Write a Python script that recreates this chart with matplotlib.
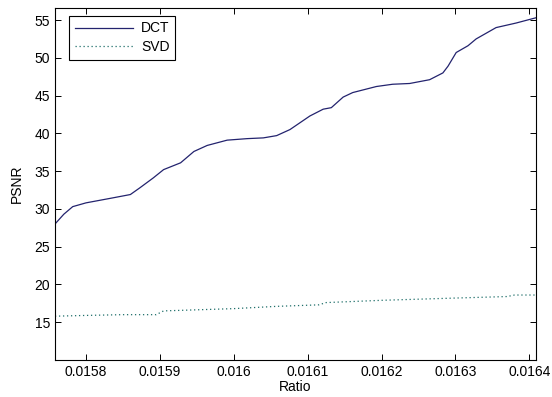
import matplotlib
matplotlib.use("Agg")
import matplotlib.pyplot as plt

plt.rcParams['font.family'] = ['Liberation Sans', 'DejaVu Sans']

# DCT curve
dct_x = [0.015758, 0.015770, 0.015782, 0.015800, 0.015833, 0.015860, 0.015873,
         0.015891, 0.015905, 0.015928, 0.015946, 0.015964, 0.015991, 0.016018,
         0.016040, 0.016058, 0.016076, 0.016103, 0.016121, 0.016132, 0.016148,
         0.016161, 0.016193, 0.016215, 0.016238, 0.016265, 0.016283, 0.016290,
         0.016301, 0.016317, 0.016328, 0.016355, 0.016382, 0.016409]
dct_y = [28.0, 29.3, 30.3, 30.8, 31.4, 31.9, 32.8,
         34.1, 35.2, 36.1, 37.6, 38.4, 39.1, 39.3,
         39.4, 39.7, 40.5, 42.3, 43.2, 43.4, 44.8,
         45.4, 46.2, 46.5, 46.6, 47.1, 48.0, 48.9,
         50.7, 51.6, 52.5, 54.0, 54.6, 55.3]

# SVD curve
svd_x = [0.015758, 0.015800, 0.015850, 0.015895, 0.015905, 0.016000, 0.016058,
         0.016115, 0.016125, 0.016200, 0.016300, 0.016370, 0.016380, 0.016409]
svd_y = [15.8, 15.9, 16.0, 16.0, 16.5, 16.8, 17.1,
         17.3, 17.6, 17.9, 18.2, 18.4, 18.6, 18.6]

xticks = [0.0158, 0.0159, 0.0160, 0.0161, 0.0162, 0.0163, 0.0164]
xticklabels = ["0.0158", "0.0159", "0.016", "0.0161", "0.0162", "0.0163", "0.0164"]
yticks = [15, 20, 25, 30, 35, 40, 45, 50, 55]

fig = plt.figure(figsize=(5.52, 3.97), dpi=100)
ax = fig.add_axes([0.0996, 0.0932, 0.8714, 0.8868])

ax.plot(dct_x, dct_y, color='#23236e', lw=0.9, label='DCT')
ax.plot(svd_x, svd_y, color='#1f6f6a', lw=0.9, ls=(0, (1, 2.2)), label='SVD')

ax.set_xlim(0.015758, 0.016409)
ax.set_ylim(10, 56.6)
ax.set_xticks(xticks)
ax.set_xticklabels(xticklabels)
ax.set_yticks(yticks)
ax.tick_params(direction='in', top=True, right=True, labelsize=10, length=4, width=0.7)
for s in ax.spines.values():
    s.set_linewidth(0.8)

ax.set_xlabel("Ratio", fontsize=10, labelpad=1)
ax.set_ylabel("PSNR", fontsize=10, labelpad=8)

leg = ax.legend(loc='upper left', fontsize=10, fancybox=False, framealpha=1,
                edgecolor='black', handlelength=4.2, borderpad=0.4,
                labelspacing=0.35, handletextpad=0.6,
                bbox_to_anchor=(0.015, 0.997))
leg.get_frame().set_linewidth(0.8)

fig.savefig("out.png", dpi=100)
